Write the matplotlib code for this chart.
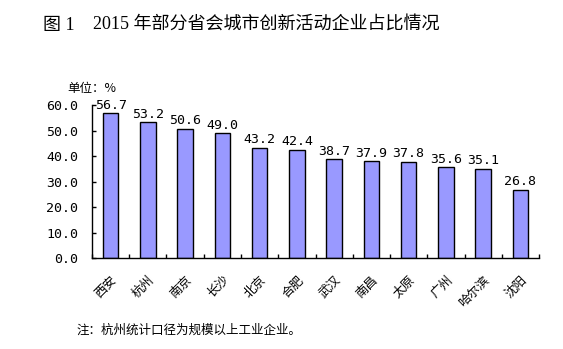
import numpy as np
import matplotlib.pyplot as plt

plt.rcParams['font.family'] = ['Noto Sans CJK SC', 'DejaVu Sans']

cities = ['西安', '杭州', '南京', '长沙', '北京', '合肥', '武汉', '南昌', '太原', '广州', '哈尔滨', '沈阳']
shares = [56.7, 53.2, 50.6, 49.0, 43.2, 42.4, 38.7, 37.9, 37.8, 35.6, 35.1, 26.8]
yticks = [0, 10, 20, 30, 40, 50, 60]

num_font = 'DejaVu Sans Mono'

fig = plt.figure(figsize=(5.63, 3.49), dpi=100)
ax = fig.add_axes([0.1634, 0.2607, 0.794, 0.4384])

x = np.arange(len(cities))
bars = ax.bar(x, shares, width=0.42, color='#9999FF', edgecolor='black', linewidth=1.0, zorder=2)

for xi, v in zip(x, shares):
    ax.text(xi, v + 0.6, f'{v:.1f}', ha='center', va='bottom', fontsize=9.5,
            family=num_font, color='black')

ax.set_xlim(-0.5, len(cities) - 0.5)
ax.set_ylim(0, 60)
ax.set_yticks(yticks)
ax.set_yticklabels([f'{t:.1f}' for t in yticks], family=num_font, fontsize=9.5)
ax.tick_params(axis='y', direction='in', length=3, width=1, pad=10)

# labels at the bar centres, tick marks on the category boundaries
ax.set_xticks(x)
ax.set_xticklabels(cities, rotation=45, ha='right', rotation_mode='anchor', fontsize=9)
ax.tick_params(axis='x', which='major', length=0, pad=11)
ax.set_xticks(np.arange(-0.5, len(cities)), minor=True)
ax.tick_params(axis='x', which='minor', direction='in', length=3, width=1)

for side in ['top', 'right']:
    ax.spines[side].set_visible(False)
for side in ['left', 'bottom']:
    ax.spines[side].set_linewidth(1.0)

fig.text(0.119, 0.745, '单位：%', fontsize=9, va='center', ha='left')

title_font = ['Liberation Serif', 'Noto Sans CJK SC']
fig.text(0.076, 0.928, '图 1', fontsize=13, va='center', ha='left', family=title_font)
fig.text(0.165, 0.928, '2015 年部分省会城市创新活动企业占比情况', fontsize=13,
         va='center', ha='left', family=title_font)

fig.text(0.135, 0.055, '注：杭州统计口径为规模以上工业企业。', fontsize=9, va='center', ha='left')

fig.savefig('out.png', dpi=100, facecolor='white')
